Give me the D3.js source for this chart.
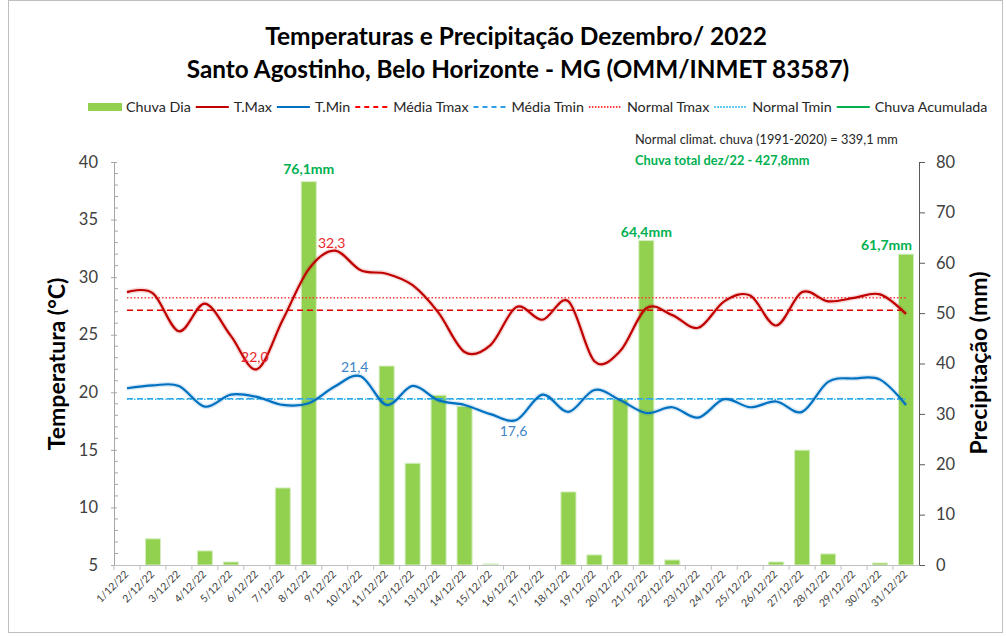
<!DOCTYPE html>
<html>
<head>
<meta charset="UTF-8">
<title>Temperaturas e Precipitação Dezembro 2022</title>
<style>
  body { margin: 0; background: #fff; }
  svg text { font-family: Lato, 'Open Sans', sans-serif; }
</style>
</head>
<body>
<svg id="chart" width="1006" height="637"></svg>
<script src="https://d3js.org/d3.v7.min.js"></script>
<script>

// data
const days = d3.range(1, 32).map(d => d + "/12/22");
const chuva = [0, 5.2, 0, 2.8, 0.6, 0, 15.3, 76.1, 0, 0, 39.5, 20.2, 33.7, 31.5, 0.2, 0,
               0, 14.5, 2.0, 32.9, 64.4, 1.0, 0, 0, 0, 0.6, 22.8, 2.2, 0, 0.4, 61.7];
const tmax = [28.7, 28.6, 25.3, 27.7, 24.9, 22.0, 26.3, 30.7, 32.3, 30.6, 30.3, 29.3, 26.9, 23.5, 24.1, 27.4,
              26.3, 27.9, 22.7, 23.6, 27.3, 26.7, 25.6, 27.9, 28.4, 25.8, 28.7, 27.9, 28.2, 28.5, 26.8];
const tmin = [20.35, 20.6, 20.55, 18.75, 19.8, 19.6, 18.9, 19.05, 20.5, 21.4, 18.9, 20.55, 19.3, 18.9, 18.1, 17.6,
              19.8, 18.3, 20.2, 19.3, 18.2, 18.7, 17.8, 19.4, 18.7, 19.2, 18.3, 20.9, 21.2, 21.1, 18.9];
const normalTmax = 28.2;
const normalTmin = 19.4;
const tempTicks = [5, 10, 15, 20, 25, 30, 35, 40];
const chuvaTicks = [0, 10, 20, 30, 40, 50, 60, 70, 80];
// rain labels shown above the big bars
const chuvaLabels = [{day: 8, text: "76,1mm"}, {day: 21, text: "64,4mm"}, {day: 31, text: "61,7mm"}];

const svg = d3.select("#chart");
const mLeft = 114, mRight = 919, mTop = 162, mBottom = 565;

// frame
svg.append("rect")
    .attr("x", 8.5).attr("y", 0.5)
    .attr("width", 994).attr("height", 632)
    .attr("fill", "#fff").attr("stroke", "#bfbfbf");

// Scales
let x = d3.scaleBand().domain(days).range([mLeft, mRight]);
let xBar = d3.scaleBand().domain(days).range([mLeft, mRight]).paddingInner(0.42).paddingOuter(0.21);
let yT = d3.scaleLinear().domain([5, 40]).range([mBottom, mTop]);
let yP = d3.scaleLinear().domain([0, 80]).range([mBottom, mTop]);
let cx = i => x(days[i]) + x.bandwidth() / 2;

// Title
svg.append("text")
    .attr("x", 516).attr("y", 45)
    .attr("text-anchor", "middle")
    .style("font-size", "24.5px").style("font-weight", "bold")
    .text("Temperaturas e Precipitação Dezembro/ 2022");
svg.append("text")
    .attr("x", 518).attr("y", 78)
    .attr("text-anchor", "middle")
    .style("font-size", "24.3px").style("font-weight", "bold")
    .text("Santo Agostinho, Belo Horizonte - MG (OMM/INMET 83587)");

// Legend
const legendItems = [
    {label: "Chuva Dia", type: "bar"},
    {label: "T.Max", color: "#c00000", dash: null},
    {label: "T.Min", color: "#0070c0", dash: null},
    {label: "Média Tmax", color: "#ff0000", dash: "5,4"},
    {label: "Média Tmin", color: "#2e9be6", dash: "5,4"},
    {label: "Normal Tmax", color: "#ff3b3b", dash: "1.5,1.5"},
    {label: "Normal Tmin", color: "#33bbee", dash: "1.5,1.5"},
    {label: "Chuva Acumulada", color: "#00b050", dash: null}
];
let lg = svg.append("g");
let lx = 88;
legendItems.forEach(item => {
    if (item.type == "bar") {
        lg.append("rect").attr("x", lx).attr("y", 103).attr("width", 34).attr("height", 8).attr("fill", "#92d050");
    } else {
        lg.append("line").attr("x1", lx).attr("x2", lx + 33).attr("y1", 107).attr("y2", 107)
            .attr("stroke", item.color).attr("stroke-width", 2)
            .attr("stroke-dasharray", item.dash);
    }
    let t = lg.append("text").attr("x", lx + 38).attr("y", 112)
        .style("font-size", "14.3px").attr("fill", "#262626")
        .text(item.label);
    lx += 38 + t.node().getComputedTextLength() + 5;
});

// notes
svg.append("text").attr("x", 635).attr("y", 144)
    .style("font-size", "12.8px").attr("fill", "#262626")
    .text("Normal climat. chuva (1991-2020) = 339,1 mm");
svg.append("text").attr("x", 635).attr("y", 165)
    .style("font-size", "12.8px").style("font-weight", "bold").attr("fill", "#00b050")
    .text("Chuva total dez/22  - 427,8mm");

// Bars
svg.append("g")
    .selectAll("rect")
    .data(chuva)
    .enter()
    .append("rect")
    .attr("x", (d, i) => xBar(days[i]))
    .attr("width", xBar.bandwidth())
    .attr("y", d => yP(d))
    .attr("height", d => mBottom - yP(d))
    .attr("fill", d => d > 0 ? "#92d050" : "none")
    .attr("stroke", d => d > 0 ? "#d5eec0" : "none")
    .attr("stroke-width", 1);

// Axes
let yLeft = svg.append("g")
    .attr("transform", "translate(" + mLeft + ",0)")
    .call(d3.axisLeft(yT).tickValues(tempTicks).tickSize(6).tickSizeOuter(0));
yLeft.selectAll("line").attr("stroke", "#a6a6a6").attr("transform", "translate(3,0)");
yLeft.select(".domain").attr("stroke", "#a6a6a6");
yLeft.selectAll("text").style("font-size", "16.5px").attr("fill", "#404040").attr("x", -16)
    .style("font-family", "Lato, sans-serif");
// minor ticks inside
yLeft.append("g").selectAll("line")
    .data(d3.range(5, 41).filter(v => v % 5 != 0))
    .enter().append("line")
    .attr("x1", 0).attr("x2", 4)
    .attr("y1", d => yT(d)).attr("y2", d => yT(d))
    .attr("stroke", "#a6a6a6");

let yRight = svg.append("g")
    .attr("transform", "translate(" + mRight + ",0)")
    .call(d3.axisRight(yP).tickValues(chuvaTicks).tickSize(6).tickSizeOuter(6));
yRight.selectAll("line").attr("stroke", "#595959");
yRight.select(".domain").attr("stroke", "#595959");
yRight.selectAll("text").style("font-size", "16.5px").attr("fill", "#404040").attr("x", 17)
    .style("font-family", "Lato, sans-serif");

let xAxis = svg.append("g")
    .attr("transform", "translate(0," + mBottom + ")")
    .call(d3.axisBottom(x).tickSize(0).tickSizeOuter(0));
xAxis.select(".domain").attr("stroke", "#bfbfbf");
xAxis.selectAll("text")
    .style("font-size", "10.5px").attr("fill", "#404040")
    .style("font-family", "Lato, sans-serif")
    .attr("text-anchor", "end")
    .attr("dy", 0).attr("y", 0)
    .attr("transform", "translate(2,10) rotate(-45)");
// tick marks between categories
xAxis.append("g").selectAll("line")
    .data(days)
    .enter().append("line")
    .attr("x1", d => x(d)).attr("x2", d => x(d))
    .attr("y1", 0).attr("y2", 5)
    .attr("stroke", "#bfbfbf");

// Axis titles
svg.append("text")
    .attr("transform", "translate(65,364) rotate(-90)")
    .attr("text-anchor", "middle")
    .style("font-size", "23px").style("font-weight", "bold")
    .text("Temperatura (°C)");
svg.append("text")
    .attr("transform", "translate(987,363) rotate(-90)")
    .attr("text-anchor", "middle")
    .style("font-size", "23px").style("font-weight", "bold")
    .text("Precipitação (mm)");

// average / normal lines
const refLines = [
    {v: normalTmax, color: "#ff3b3b", dash: "1.5,2"},
    {v: d3.mean(tmax), color: "#e00000", dash: "6,4"},
    {v: d3.mean(tmin), color: "#2e9be6", dash: "6,4"},
    {v: normalTmin, color: "#33bbee", dash: "1.5,2"}
];
svg.append("g").selectAll("line")
    .data(refLines)
    .enter().append("line")
    .attr("x1", cx(0)).attr("x2", cx(30))
    .attr("y1", d => yT(d.v)).attr("y2", d => yT(d.v))
    .attr("stroke", d => d.color)
    .attr("stroke-width", 1.5)
    .attr("stroke-dasharray", d => d.dash);

// Temperature curves
let line = d3.line()
    .x((d, i) => cx(i))
    .y(d => yT(d))
    .curve(d3.curveCatmullRom.alpha(0));

[{data: tmax, color: "#c00000"}, {data: tmin, color: "#0070c0"}].forEach(s => {
    svg.append("path").attr("d", line(s.data))
        .attr("fill", "none").attr("stroke", s.color)
        .attr("stroke-width", 5).attr("stroke-opacity", 0.15);
    svg.append("path").attr("d", line(s.data))
        .attr("fill", "none").attr("stroke", s.color)
        .attr("stroke-width", 2.2);
});

// Extreme labels
let fmt = v => d3.format(".1f")(v).replace(".", ",");
let iMax = d3.maxIndex(tmax), iMinMax = d3.minIndex(tmax);
let iMaxMin = d3.maxIndex(tmin), iMin = d3.minIndex(tmin);
const tempLabels = [
    {i: iMax, v: tmax[iMax], dx: -3, dy: -3, color: "#e8262b"},
    {i: iMinMax, v: tmax[iMinMax], dx: -2, dy: -7, color: "#e8262b"},
    {i: iMaxMin, v: tmin[iMaxMin], dx: -6, dy: -4, color: "#3f83c7"},
    {i: iMin, v: tmin[iMin], dx: -3, dy: 16, color: "#3f83c7"}
];
svg.append("g").selectAll("text")
    .data(tempLabels)
    .enter().append("text")
    .attr("x", d => cx(d.i) + d.dx)
    .attr("y", d => yT(d.v) + d.dy)
    .attr("text-anchor", "middle")
    .style("font-size", "14px")
    .attr("fill", d => d.color)
    .text(d => fmt(d.v));

// rain labels
svg.append("g").selectAll("text")
    .data(chuvaLabels)
    .enter().append("text")
    .attr("x", d => d.day == 31 ? cx(30) + 6 : cx(d.day - 1))
    .attr("y", (d, k) => yP(chuva[d.day - 1]) - (k == 0 ? 8 : 4))
    .attr("text-anchor", d => d.day == 31 ? "end" : "middle")
    .style("font-size", "14px").style("font-weight", "bold")
    .attr("fill", "#00b050")
    .text(d => d.text);

</script>
</body>
</html>
